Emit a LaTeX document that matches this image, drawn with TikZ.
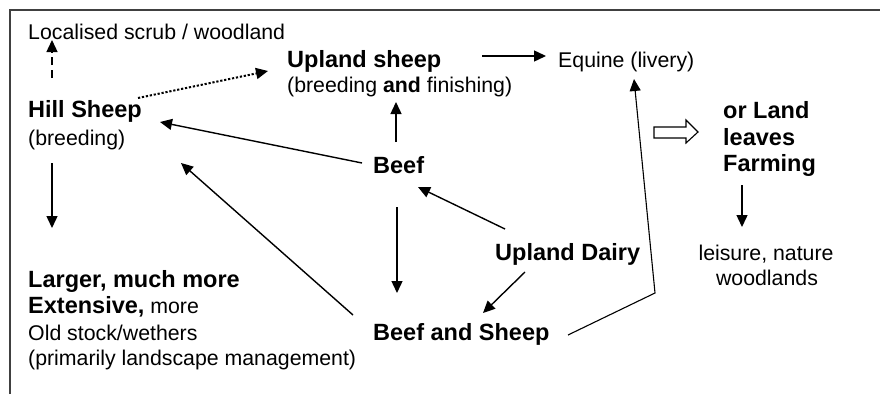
\documentclass[tikz,border=0pt]{standalone}
\usepackage{fontspec}
\setmainfont{Liberation Sans}
\usetikzlibrary{arrows.meta,calc}
\newcommand{\txtreg}{\fontsize{21.3pt}{26pt}\selectfont}
\newcommand{\txtbold}{\fontsize{23.5pt}{26pt}\selectfont\bfseries}
\tikzset{
  lbl/.style={inner sep=0pt, anchor=base west, font=\txtreg},
  blbl/.style={lbl, font=\txtbold},
  arr/.style={-{Triangle[length=12pt,width=11pt]}, line width=1.4pt},
  thinarr/.style={arr, line width=1.1pt},
  dasharr/.style={arr, dash pattern=on 8pt off 5pt},
  dotarr/.style={arr, line width=2pt, dash pattern=on 2.2pt off 1.8pt},
  hollow/.style={line width=1.1pt, fill=white}
}
\begin{document}
\begin{tikzpicture}[x=1pt,y=-1pt]
\useasboundingbox (0,0) rectangle (880,394);
\draw[line width=1.6pt, black!75] (10,394) -- (10,10) -- (880,10);

\node[lbl]  (scrub)   at (28,39)   {Localised scrub / woodland};
\node[blbl] (hill)    at (28,117)  {Hill Sheep};
\node[lbl]  (hillb)   at (28,145)  {(breeding)};
\node[blbl] (usheep)  at (287,67)  {Upland sheep};
\node[lbl]  (usheepb) at (287,92)  {(breeding \textbf{and} finishing)};
\node[lbl]  (equine)  at (558,67)  {Equine (livery)};
\node[blbl] (beef)    at (373,173) {Beef};
\node[blbl] (dairy)   at (495,260) {Upland Dairy};
\node[blbl] (bs)      at (373,340) {Beef and Sheep};
\node[blbl] (leave1)  at (723,118) {or Land};
\node[blbl] (leave2)  at (723,145) {leaves};
\node[blbl] (leave3)  at (723,171) {Farming};
\node[lbl, anchor=base] (leis1) at (766,260) {leisure, nature};
\node[lbl, anchor=base] (leis2) at (767,285) {woodlands};
\node[blbl] (ext1)    at (28,287)  {Larger, much more};
\node[lbl]  (ext2)    at (28,313)  {{\txtbold Extensive,} more};
\node[lbl]  (ext3)    at (28,340)  {Old stock/wethers};
\node[lbl]  (ext4)    at (28,365)  {(primarily landscape management)};
\coordinate (bend) at (655,293);

\draw[dasharr] ($(hill.base west)+(24,-39)$) -- ($(scrub.base west)+(24,1)$);
\draw[dotarr] ($(hill.base west)+(110,-19)$) -- ($(usheep.base west)+(-19,4)$);
\draw[arr] ($(usheep.base west)+(195,-11)$) -- ($(equine.base west)+(-12,-11)$);
\draw[arr] ($(beef.base west)+(23,-31)$) -- ($(usheepb.base west)+(109,10)$);
\draw[arr] ($(beef.base west)+(-11,-10)$) -- ($(hill.base west)+(132,5)$);
\draw[arr] ($(beef.base west)+(24,34)$) -- ($(bs.base west)+(24,-47)$);
\draw[arr] ($(dairy.base west)+(10,-31)$) -- ($(beef.base west)+(45,14)$);
\draw[arr] ($(dairy.base west)+(30,12)$) -- ($(bs.base west)+(110,-27)$);
\draw[arr] ($(bs.base west)+(-20,-25)$) -- ($(hillb.base west)+(153,18)$);
\draw[thinarr] ($(bs.base west)+(195,-5)$) -- (bend) -- ($(equine.base west)+(76,12)$);
\draw[arr] ($(hillb.base west)+(24,18)$) -- ($(ext1.base west)+(24,-59)$);
\draw[arr] ($(leave3.base west)+(19,14)$) -- ($(leis1.base)+(-24,-33)$);

\draw[hollow] (654,127) -- (686,127) -- (686,120) -- (698,132) -- (686,143) -- (686,138) -- (654,138) -- cycle;
\end{tikzpicture}
\end{document}
